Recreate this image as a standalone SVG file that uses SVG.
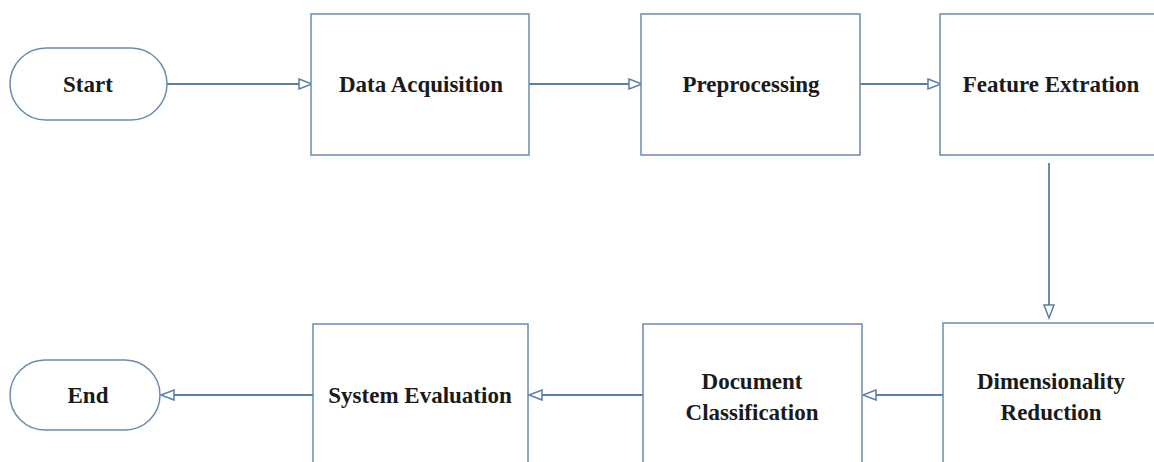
<svg xmlns="http://www.w3.org/2000/svg" width="1154" height="462" viewBox="0 0 1154 462">
<defs>
<style>
.n{fill:#fff;stroke:#6a8bb0;stroke-width:1.5}
.t{font-family:"Liberation Serif","Times New Roman",serif;font-weight:bold;font-size:23px;fill:#1a1a1a;text-anchor:middle}
.c{fill:none;stroke:#5a7fa8;stroke-width:1.8}
</style>
<marker id="a" markerWidth="16" markerHeight="12" refX="14" refY="6" orient="auto" markerUnits="userSpaceOnUse">
<path d="M1,1 L14,6 L1,11 Z" fill="#fff" stroke="#5a7fa8" stroke-width="1.5"/>
</marker>
</defs>
<rect width="1154" height="462" fill="#fff"/>
<g id="connectors">
<path class="c" d="M167,84 L312,84" marker-end="url(#a)"/>
<path class="c" d="M529,84 L642,84" marker-end="url(#a)"/>
<path class="c" d="M860,84 L941,84" marker-end="url(#a)"/>
<path class="c" d="M1049,163 L1049,318" marker-end="url(#a)"/>
<path class="c" d="M943,395 L863,395" marker-end="url(#a)"/>
<path class="c" d="M643,395 L529,395" marker-end="url(#a)"/>
<path class="c" d="M313,395 L161,395" marker-end="url(#a)"/>
</g>
<g id="start"><rect class="n" x="10" y="48" width="157" height="72" rx="36"/><text class="t" x="88" y="92">Start</text></g>
<g id="data-acquisition"><rect class="n" x="311" y="14" width="218" height="141"/><text class="t" x="421" y="92">Data Acquisition</text></g>
<g id="preprocessing"><rect class="n" x="641" y="14" width="219" height="141"/><text class="t" x="751" y="92">Preprocessing</text></g>
<g id="feature-extration"><rect class="n" x="940" y="14" width="230" height="141"/><text class="t" x="1051" y="92">Feature Extration</text></g>
<g id="dimensionality-reduction"><rect class="n" x="943" y="323" width="230" height="160"/><text class="t" x="1051" y="389">Dimensionality</text><text class="t" x="1051" y="420">Reduction</text></g>
<g id="document-classification"><rect class="n" x="643" y="324" width="219" height="160"/><text class="t" x="752" y="389">Document</text><text class="t" x="752" y="420">Classification</text></g>
<g id="system-evaluation"><rect class="n" x="313" y="324" width="215" height="160"/><text class="t" x="420" y="403">System Evaluation</text></g>
<g id="end"><rect class="n" x="10" y="360" width="150" height="70" rx="35"/><text class="t" x="88" y="403">End</text></g>
</svg>
